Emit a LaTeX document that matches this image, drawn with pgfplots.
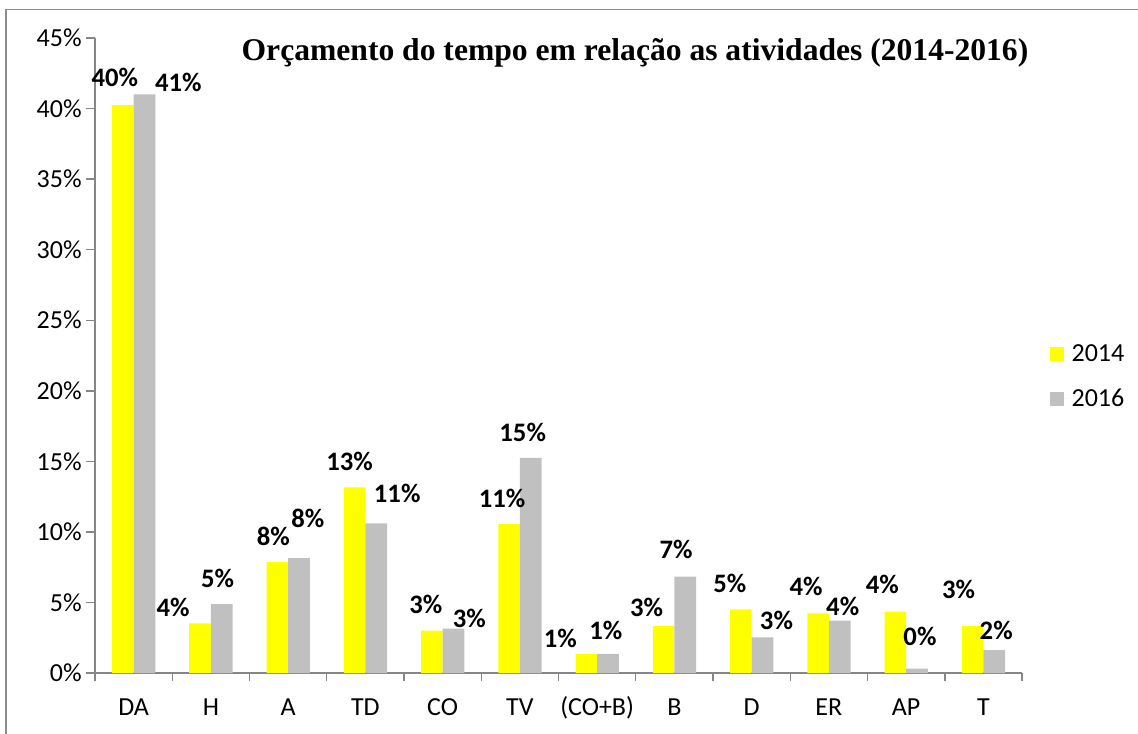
\documentclass[border=0pt]{standalone}
\usepackage{pgfplots}
\pgfplotsset{compat=1.18}
\usepackage{pgfplotstable}
\usepackage{fontspec}
\setmainfont{Carlito}
\newfontfamily\titlefont{Liberation Serif}
\definecolor{yel}{HTML}{FFFF00}
\definecolor{gry}{HTML}{C0C0C0}
\definecolor{axgray}{HTML}{868686}
\definecolor{framegray}{HTML}{8C8C8C}

\pgfplotstableread{
x y
0 40.25
1 3.52
2 7.87
3 13.16
4 3.00
5 10.56
6 1.35
7 3.33
8 4.51
9 4.23
10 4.35
11 3.33
}\dataA

\pgfplotstableread{
x y
0 41.00
1 4.89
2 8.15
3 10.60
4 3.14
5 15.24
6 1.35
7 6.83
8 2.52
9 3.71
10 0.31
11 1.63
}\dataB

% label offsets in pixels (dx right, dy up from bar top)
\def\dxA{{-8,-27,-4,-5,-6,-7,-26,-17,-11,-12,-13,-14}}
\def\dyA{{28,16,26,26,26,26,16,19,26,27,27,37}}
\def\dxB{{34,-4,9,21,16,-8,-2,-9,14,3,3,2}}
\def\dyB{{12,26,40,30,10,26,24,27,17,14,32,20}}

\begin{document}
\begin{tikzpicture}[x=0.75bp,y=0.75bp]
\useasboundingbox (0,0) rectangle (1138,-733);
\draw[framegray, line width=1.1bp] (6,-740) -- (6,-9.5) -- (1145,-9.5);
\begin{axis}[
  at={(71.25bp,-504.75bp)}, anchor=south west,
  scale only axis, width=695.25bp, height=476.25bp,
  clip=false,
  ybar=0pt, bar width=0.28,
  xmin=-0.5, xmax=11.5, ymin=0, ymax=45,
  enlargelimits=false,
  axis x line=bottom, axis y line=left,
  axis line style={-, axgray, line width=1.1bp},
  tick style={axgray, line width=1.1bp},
  tick align=outside,
  major tick length=6.5bp, minor tick length=6bp,
  xtick={0,...,11},
  xticklabels={DA,H,A,TD,CO,TV,(CO+B),B,D,ER,AP,T},
  major x tick style={draw=none},
  minor xtick={-0.5,0.5,...,11.5},
  ytick={0,5,...,45},
  yticklabel={\pgfmathprintnumber{\tick}\%},
  /pgf/number format/assume math mode=true,
  ticklabel style={font=\fontsize{19.5bp}{23bp}\selectfont, text=black},
  xticklabel style={anchor=base, yshift=-25bp},
  legend style={draw=none, fill=none, at={(1,0.467)}, anchor=west, xshift=17.5bp,
     font=\fontsize{19.5bp}{23bp}\selectfont, row sep=15.5bp, legend cell align=left},
]
\addplot[fill=yel, draw=none,
  visualization depends on={value \coordindex \as \idx},
  nodes near coords={\pgfmathprintnumber[fixed,precision=0]{\pgfplotspointmeta}\%},
  every node near coord/.append style={anchor=center, font=\fontsize{20bp}{24bp}\selectfont\bfseries, text=black,
     /utils/exec={\pgfmathsetmacro\myx{\dxA[\idx]*0.75}\pgfmathsetmacro\myy{\dyA[\idx]*0.75}},
     xshift=\myx bp, yshift=\myy bp},
  legend image code/.code={\fill[yel] (0bp,-5.25bp) rectangle (10.5bp,5.25bp); \path (0bp,0bp) -- (14.5bp,0bp);}]
  table[x=x, y=y] {\dataA};
\addlegendentry{2014}
\addplot[fill=gry, draw=none,
  visualization depends on={value \coordindex \as \idx},
  nodes near coords={\pgfmathprintnumber[fixed,precision=0]{\pgfplotspointmeta}\%},
  every node near coord/.append style={anchor=center, font=\fontsize{20bp}{24bp}\selectfont\bfseries, text=black,
     /utils/exec={\pgfmathsetmacro\myx{\dxB[\idx]*0.75}\pgfmathsetmacro\myy{\dyB[\idx]*0.75}},
     xshift=\myx bp, yshift=\myy bp},
  legend image code/.code={\fill[gry] (0bp,-5.25bp) rectangle (10.5bp,5.25bp); \path (0bp,0bp) -- (14.5bp,0bp);}]
  table[x=x, y=y] {\dataB};
\addlegendentry{2016}
\node[font=\titlefont\fontsize{23.7bp}{28bp}\selectfont\bfseries, anchor=center]
  at (rel axis cs:0.5825,0.976) {Orçamento do tempo em relação as atividades (2014-2016)};
\end{axis}
\end{tikzpicture}
\end{document}
